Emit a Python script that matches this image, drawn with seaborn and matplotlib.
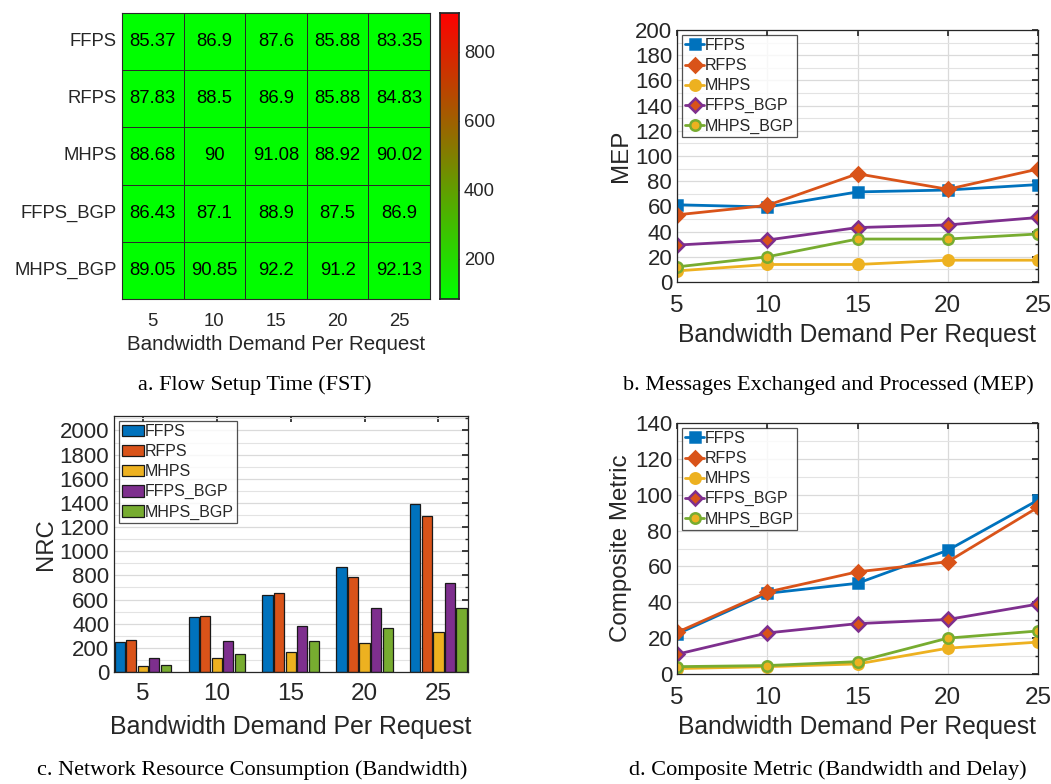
import numpy as np
import pandas as pd
import matplotlib
matplotlib.use('Agg')
import matplotlib.pyplot as plt
from matplotlib.colors import LinearSegmentedColormap
from matplotlib.ticker import MultipleLocator
import seaborn as sns

# datos
schemes = ['FFPS', 'RFPS', 'MHPS', 'FFPS_BGP', 'MHPS_BGP']
demand = [5, 10, 15, 20, 25]

# a. Flow Setup Time
fst_ffps = [85.37, 86.9, 87.6, 85.88, 83.35]
fst_rfps = [87.83, 88.5, 86.9, 85.88, 84.83]
fst_mhps = [88.68, 90, 91.08, 88.92, 90.02]
fst_ffps_bgp = [86.43, 87.1, 88.9, 87.5, 86.9]
fst_mhps_bgp = [89.05, 90.85, 92.2, 91.2, 92.13]

# b. MEP
mep_ffps = [61.3, 59.5, 71.5, 73.0, 77.3]
mep_rfps = [53.3, 60.8, 85.9, 73.6, 89.6]
mep_mhps = [8.8, 13.9, 13.9, 17.3, 17.3]
mep_ffps_bgp = [29.3, 33.3, 43.2, 45.3, 51.2]
mep_mhps_bgp = [12.0, 20.0, 34.1, 34.1, 38.1]

# c. NRC
nrc_ffps = [252, 457, 637, 870, 1391]
nrc_rfps = [269, 465, 651, 789, 1288]
nrc_mhps = [50, 114, 169, 244, 330]
nrc_ffps_bgp = [119, 255, 380, 526, 734]
nrc_mhps_bgp = [61, 152, 260, 366, 532]

# d. Composite metric
cm_ffps = [22.3, 45.0, 50.6, 69.0, 97.0]
cm_rfps = [23.2, 45.7, 57.0, 62.6, 93.0]
cm_mhps = [3.0, 4.1, 5.6, 14.4, 17.8]
cm_ffps_bgp = [11.0, 22.9, 28.1, 30.4, 39.0]
cm_mhps_bgp = [4.1, 4.7, 6.9, 20.0, 24.0]

colors = ['#0072BD', '#D95319', '#EDB120', '#7E2F8E', '#77AC30']
markers = ['s', 'D', 'o', 'D', 'o']
faces = ['#0072BD', '#D95319', '#EDB120', '#D95319', '#EDB120']

sns.set_theme(style='white')
plt.rcParams['font.family'] = ['Liberation Sans', 'DejaVu Sans']
plt.rcParams['text.color'] = '#262626'
plt.rcParams['axes.labelcolor'] = '#262626'

fig = plt.figure(figsize=(10.51, 7.84), dpi=100)
W, H = 1051, 784


def px_axes(x0, y0, x1, y1):
    return fig.add_axes([x0 / W, (H - y1) / H, (x1 - x0) / W, (y1 - y0) / H])


def matlab_style(ax, ymajor, yminor):
    ax.yaxis.set_major_locator(MultipleLocator(ymajor))
    ax.yaxis.set_minor_locator(MultipleLocator(yminor))
    ax.grid(True, which='major', axis='y', color='#dadada', lw=0.9)
    ax.grid(True, which='minor', axis='y', color='#e3e3e3', lw=0.8)
    ax.tick_params(which='both', direction='in', top=True, right=True,
                   colors='#262626', labelsize=16, length=4)
    ax.tick_params(which='minor', length=2.5)
    ax.tick_params(axis='x', which='minor', top=False, bottom=False)
    for s in ax.spines.values():
        s.set_visible(True)
        s.set_color('#262626')
        s.set_linewidth(0.9)
    ax.set_axisbelow(True)


def matlab_legend(ax, **kw):
    leg = ax.legend(loc='upper left', fontsize=11.5, frameon=True, fancybox=False,
                    borderpad=0.2, labelspacing=0.32, borderaxespad=0.3,
                    handletextpad=0.05, **kw)
    leg.get_frame().set_edgecolor('#262626')
    leg.get_frame().set_linewidth(0.9)
    return leg


# ---- a. heatmap
fst = pd.DataFrame([fst_ffps, fst_rfps, fst_mhps, fst_ffps_bgp, fst_mhps_bgp],
                   index=schemes, columns=demand)
ax_a = px_axes(122, 13, 430, 299)
cax = px_axes(440, 13, 459, 299)
gr = LinearSegmentedColormap.from_list('gr', ['#00ff00', '#ff0000'])
sns.heatmap(fst, ax=ax_a, cbar_ax=cax, cmap=gr, vmin=83.35, vmax=912,
            annot=True, fmt='g', annot_kws={'size': 13.3, 'color': 'black'},
            linewidths=0.5, linecolor='#2a2a2a')
ax_a.tick_params(length=0, labelsize=13.3, colors='#262626', pad=4)
ax_a.tick_params(axis='x', pad=10)
ax_a.set_yticklabels(schemes, rotation=0)
ax_a.set_xticklabels(demand, rotation=0)
ax_a.set_xlabel('Bandwidth Demand Per Request', fontsize=14.8, labelpad=4)
ax_a.set_ylabel('')
for s in ax_a.spines.values():
    s.set_visible(True)
    s.set_color('#2a2a2a')
    s.set_linewidth(0.8)
cax.set_yticks([200, 400, 600, 800])
cax.tick_params(labelsize=13.3, colors='#262626', direction='in', length=4, width=0.8)
for s in cax.spines.values():
    s.set_visible(True)
    s.set_color('#262626')


def line_panel(ax, series, ylim, ymajor, yminor, ylabel):
    for name, vals, c, m, fc in zip(schemes, series, colors, markers, faces):
        sns.lineplot(x=demand, y=vals, ax=ax, color=c, marker=m, markersize=7.5,
                     markerfacecolor=fc, markeredgecolor=c, markeredgewidth=1.8,
                     linewidth=2, label=name)
    ax.set_xlim(5, 25)
    ax.set_ylim(*ylim)
    ax.set_xticks(demand)
    matlab_style(ax, ymajor, yminor)
    ax.grid(True, which='major', axis='x', color='#dadada', lw=0.9)
    ax.tick_params(axis='x', labelsize=17.5, pad=9)
    ax.tick_params(axis='y', labelsize=16)
    ax.set_xlabel('Bandwidth Demand Per Request', fontsize=17.7, labelpad=5)
    ax.set_ylabel(ylabel, fontsize=17.4, labelpad=2)
    matlab_legend(ax, handlelength=1.2)


# ---- b. MEP
ax_b = px_axes(677, 30, 1038, 282)
line_panel(ax_b, [mep_ffps, mep_rfps, mep_mhps, mep_ffps_bgp, mep_mhps_bgp],
           (0, 200), 20, 10, 'MEP')

# ---- c. NRC bars
nrc = pd.DataFrame({
    'demand': demand * 5,
    'scheme': [s for s in schemes for _ in demand],
    'nrc': nrc_ffps + nrc_rfps + nrc_mhps + nrc_ffps_bgp + nrc_mhps_bgp,
})
ax_c = px_axes(114, 416, 468, 672)
sns.barplot(data=nrc, x='demand', y='nrc', hue='scheme', hue_order=schemes,
            palette=colors, width=0.78, gap=0.12, edgecolor='#1a1a1a',
            linewidth=0.9, saturation=1, ax=ax_c)
ax_c.set_xlim(-0.39, 4.4)
ax_c.set_ylim(0, 2120)
matlab_style(ax_c, 200, 100)
ax_c.tick_params(axis='x', labelsize=17.5, pad=8)
ax_c.set_xlabel('Bandwidth Demand Per Request', fontsize=17.9, labelpad=7)
ax_c.set_ylabel('NRC', fontsize=17.2, labelpad=2)
matlab_legend(ax_c, handlelength=1.35, handleheight=0.75, title=None)

# ---- d. composite
ax_d = px_axes(677, 423, 1038, 674)
line_panel(ax_d, [cm_ffps, cm_rfps, cm_mhps, cm_ffps_bgp, cm_mhps_bgp],
           (0, 140), 20, 10, 'Composite Metric')

# captions
cap = dict(ha='center', va='center', fontsize=16, family=['Liberation Serif', 'DejaVu Serif'],
           color='black')
fig.text(255 / W, 1 - 385 / H, 'a. Flow Setup Time (FST)', **cap)
fig.text(828 / W, 1 - 385 / H, 'b. Messages Exchanged and Processed (MEP)', **cap)
fig.text(252 / W, 1 - 770 / H, 'c. Network Resource Consumption (Bandwidth)', **cap)
fig.text(828 / W, 1 - 770 / H, 'd. Composite Metric (Bandwidth and Delay)', **cap)

fig.savefig('out.png', dpi=100)
